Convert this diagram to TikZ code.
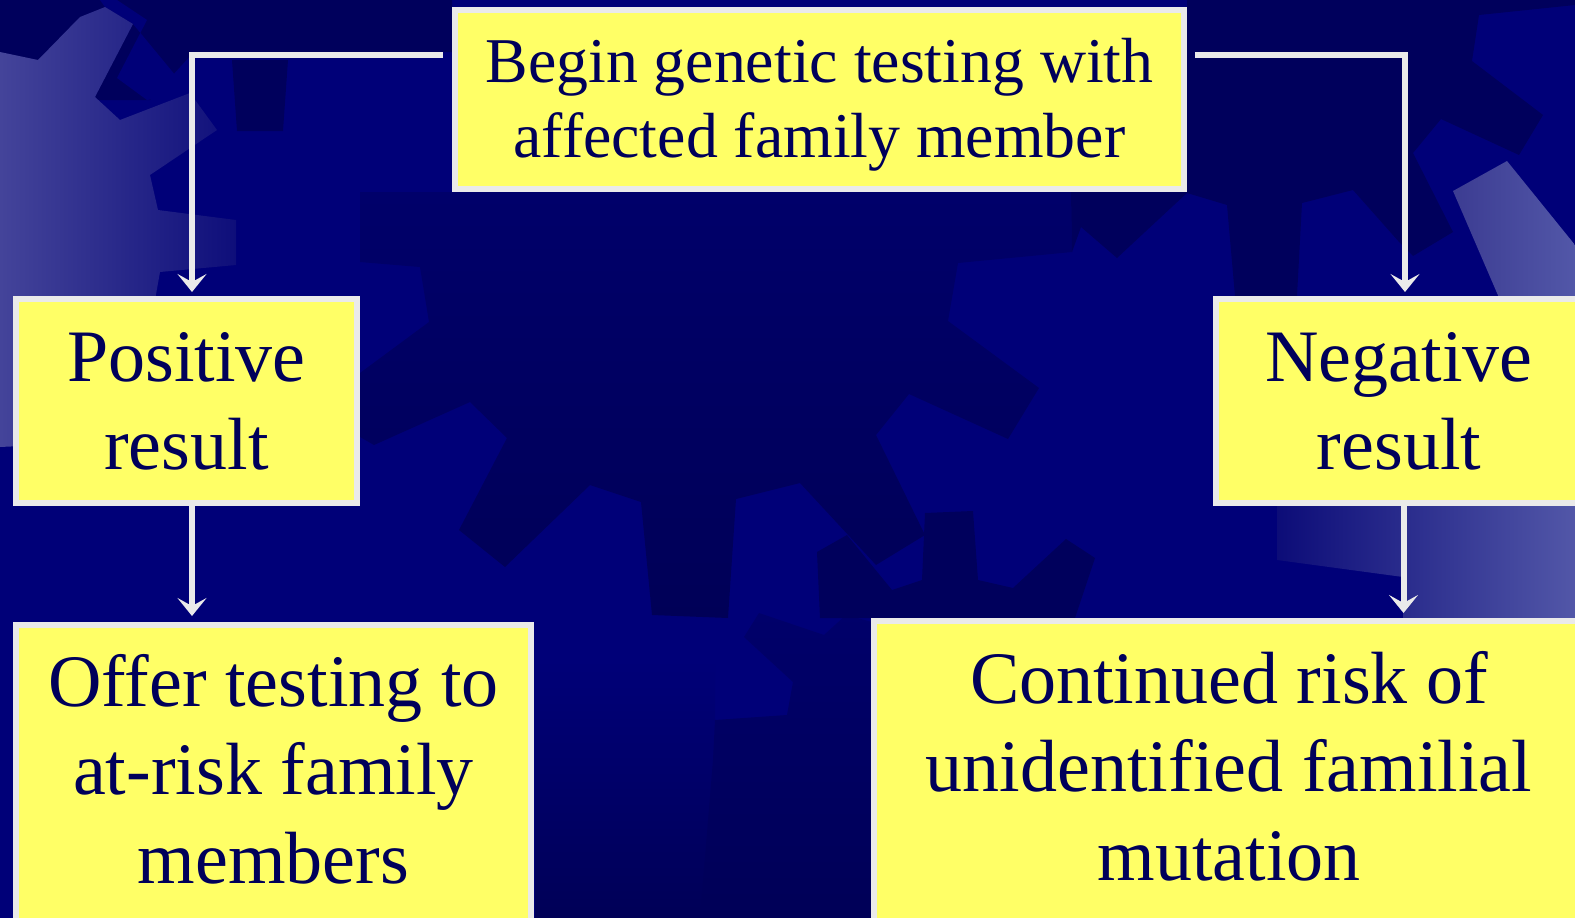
\documentclass[tikz,border=0pt]{standalone}
\usepackage{fontspec}
\setmainfont{Liberation Serif}
\usetikzlibrary{arrows.meta}
\definecolor{navyM}{HTML}{000078}
\definecolor{navyD}{HTML}{00005C}
\definecolor{navyDA}{HTML}{00006A}
\definecolor{navyDB}{HTML}{000057}
\definecolor{lightL}{HTML}{44449A}
\definecolor{lightR}{HTML}{0E0E7A}
\definecolor{lightR2}{HTML}{5257A8}
\definecolor{lightL2}{HTML}{3C3C92}
\definecolor{lowL}{HTML}{0C0C78}
\definecolor{boxfill}{HTML}{FFFF66}
\definecolor{boxline}{HTML}{EAEAEA}
\definecolor{txt}{HTML}{00005A}
\definecolor{lineC}{HTML}{EAEAEA}
\begin{document}
\begin{tikzpicture}[x=1pt,y=-1pt,
  box/.style={draw=boxline, fill=boxfill, line width=6pt, inner sep=0pt,
    text=txt, align=flush center},
  bigtext/.style={font=\fontsize{74}{88.5}\selectfont},
  conn/.style={draw=lineC, line width=6pt,
    -{Stealth[length=18pt,width=29pt,inset=8pt]}}]
\useasboundingbox (0,0) rectangle (1575,918);
\clip (0,0) rectangle (1575,918);
% background
\fill[navyM] (0,0) rectangle (1575,918);
% dark top-left band
\fill[navyD] (0,0) -- (452,0) -- (452,52) -- (190,56) -- (150,100) -- (0,100) -- cycle;
\fill[navyM] (100,0) -- (117,0) -- (147,20) -- (117,78) -- (147,100) -- (190,93) -- (133,24) -- (105,7) -- cycle;
\fill[navyD] (232,60) -- (288,60) -- (283,131) -- (237,131) -- cycle;
% dark top-right region
\fill[navyD] (1187,0) -- (1575,0) -- (1575,5) -- (1479,15) -- (1472,61) -- (1543,115)
  -- (1519,155) -- (1441,119) -- (1413,153) -- (1453,232) -- (1413,256) -- (1400,243)
  -- (1353,190) -- (1302,203) -- (1297,296) -- (1235,296) -- (1227,205) -- (1187,193) -- cycle;
% central dark gear
\shade[top color=navyDA, bottom color=navyDB]
  (360,192) -- (1071,192) -- (1072,252) -- (958,263) -- (948,321) -- (1039,388)
  -- (1008,439) -- (909,394) -- (876,435) -- (925,535) -- (876,565) -- (800,483)
  -- (736,499) -- (728,618) -- (652,615) -- (641,502) -- (590,485) -- (505,567)
  -- (459,530) -- (507,438) -- (470,402) -- (374,445) -- (360,437) -- (360,373)
  -- (429,322) -- (420,267) -- (360,262) -- cycle;
\fill[navyD] (1071,192) -- (1188,192) -- (1117,258) -- (1081,227) -- (1072,252) -- cycle;
% lower dark gears
\shade[top color=navyM, bottom color=navyDB] (535,660) rectangle (715,918);
\shade[top color=navyDA, bottom color=navyDB]
  (744,637) -- (759,613) -- (824,635) -- (846,615) -- (872,622) -- (872,918)
  -- (700,918) -- (713,760) -- (715,720) -- (787,715) -- (793,682) -- cycle;
\fill[navyD] (817,552) -- (847,535) -- (892,590) -- (922,580) -- (925,513) -- (973,511)
  -- (978,580) -- (1013,588) -- (1066,539) -- (1095,558) -- (1075,618) -- (820,618) -- cycle;
% light gear on the left
\shade[left color=lightL, right color=lightR]
  (0,52) -- (38,60) -- (80,17) -- (105,7) -- (133,24) -- (95,97) -- (120,120)
  -- (190,93) -- (217,130) -- (150,175) -- (158,210) -- (236,220) -- (236,265)
  -- (160,272) -- (155,300) -- (150,440) -- (0,447) -- cycle;
% light tooth on the right
\shade[left color=lightL2, right color=lightR2]
  (1453,191) -- (1507,161) -- (1575,245) -- (1575,300) -- (1500,300) -- cycle;
% light region lower right
\shade[left color=lowL, right color=lightR2]
  (1277,506) -- (1575,506) -- (1575,620) -- (1403,620) -- (1403,577) -- (1277,560) -- cycle;
% boxes
\node[box, minimum width=729pt, minimum height=179pt, text width=729pt,
  text height=40pt, text depth=75pt, font=\fontsize{63.8}{75}\selectfont]
  (top) at (819.5,99.5) {Begin genetic testing with\hspace*{0.45em}\\affected family member};
\node[box, bigtext, minimum width=341pt, minimum height=204pt, text width=341pt,
  text height=50pt, text depth=90pt] (pos) at (186.5,401) {Positive\\result};
\node[box, bigtext, minimum width=366pt, minimum height=204pt, text width=366pt,
  text height=50pt, text depth=90pt] (neg) at (1399,401) {Negative\\result};
\node[box, bigtext, minimum width=515pt, minimum height=350pt, text width=515pt,
  text height=50pt, text depth=238pt] (offer) at (273.5,800) {Offer testing to\\at-risk family\\members};
\node[box, bigtext, minimum width=710pt, minimum height=350pt, text width=710pt,
  text height=50pt, text depth=236pt] (cont) at (1229,796) {Continued risk of\\unidentified familial\\mutation};
% connectors
\coordinate (lstart) at (443,55);
\coordinate (rstart) at (1195,55);
\draw[conn] (lstart) -| ([xshift=5.5pt,yshift=4pt]pos.north);
\draw[conn] (rstart) -| ([xshift=6pt,yshift=4pt]neg.north);
\draw[conn, shorten >=6pt] ([xshift=5.5pt]pos.south) -- ([xshift=5.5pt]pos.south |- offer.north);
\draw[conn, shorten >=5pt] ([xshift=4.5pt]neg.south) -- ([xshift=4.5pt]neg.south |- cont.north);
\end{tikzpicture}
\end{document}
